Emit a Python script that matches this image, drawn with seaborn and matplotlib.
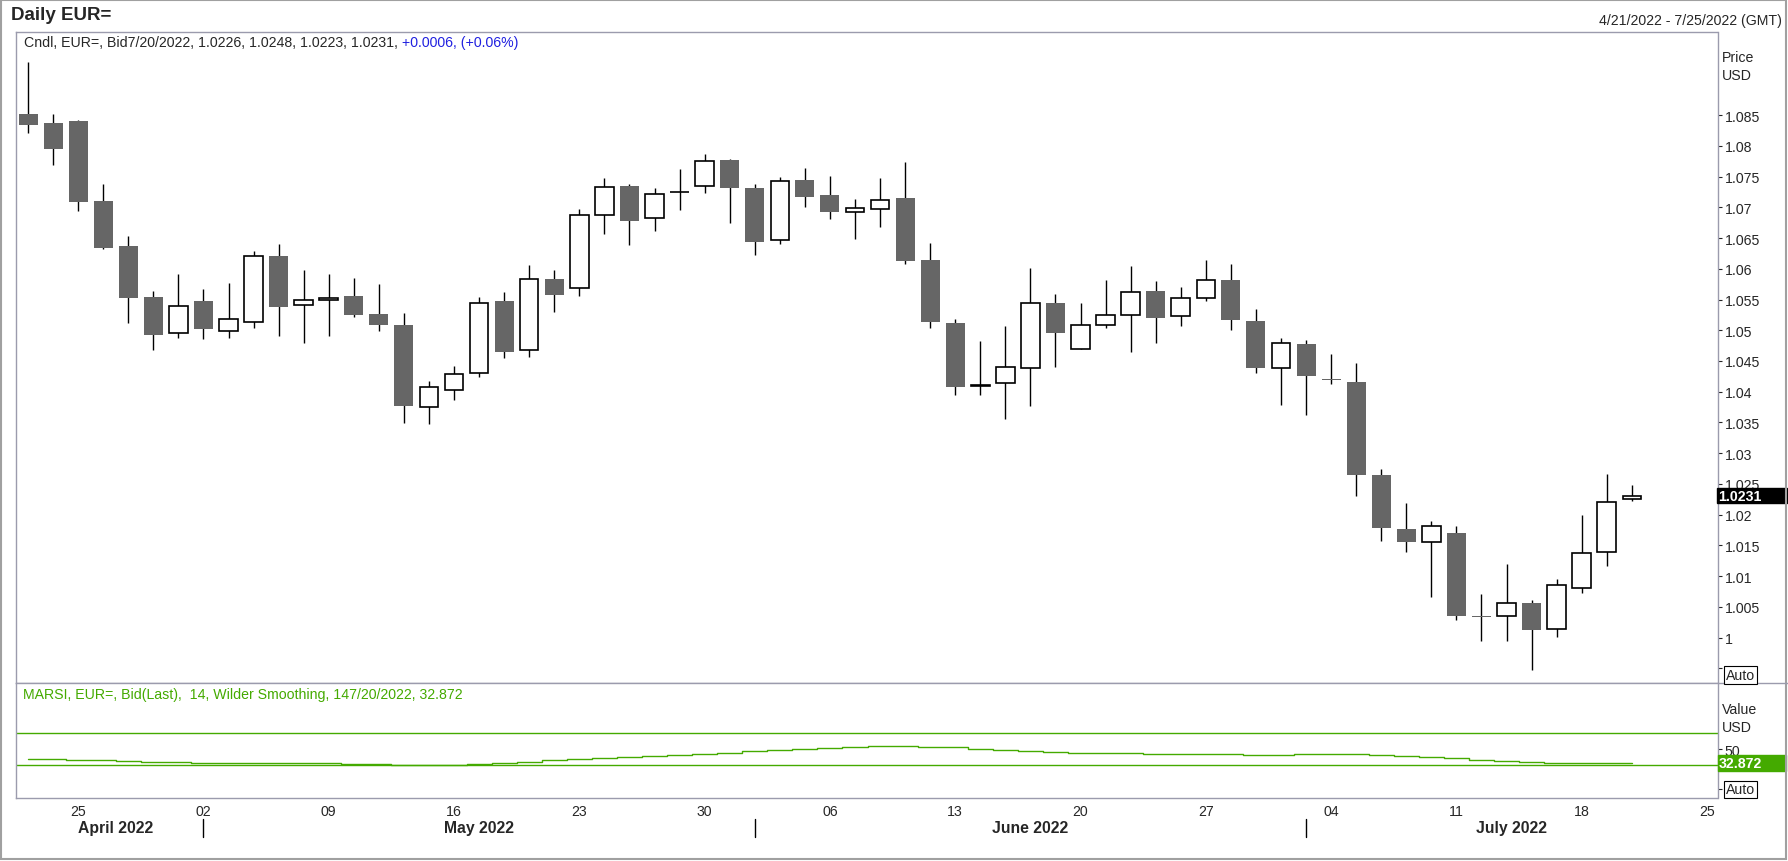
import numpy as np
import pandas as pd
import matplotlib
matplotlib.use('Agg')
import matplotlib.pyplot as plt
import matplotlib.transforms as mtransforms
from matplotlib.patches import Rectangle
from matplotlib.lines import Line2D
import seaborn as sns

# daily candles EUR= (bid), 4/21/2022 - 7/20/2022
opens = [1.0851, 1.0837, 1.0840, 1.0710, 1.0637, 1.0554, 1.0495, 1.0547, 1.0499, 1.0513,
         1.0621, 1.0541, 1.0549, 1.0556, 1.0526, 1.0509, 1.0376, 1.0403, 1.0430, 1.0547,
         1.0468, 1.0583, 1.0569, 1.0687, 1.0735, 1.0683, 1.0725, 1.0735, 1.0777, 1.0731,
         1.0646, 1.0744, 1.0720, 1.0692, 1.0697, 1.0715, 1.0614, 1.0512, 1.0409, 1.0414,
         1.0439, 1.0545, 1.0470, 1.0509, 1.0525, 1.0564, 1.0523, 1.0552, 1.0582, 1.0515,
         1.0439, 1.0478, 1.0421, 1.0416, 1.0265, 1.0177, 1.0156, 1.0170, 1.0036, 1.0035,
         1.0057, 1.0014, 1.0081, 1.0140, 1.0226]
highs = [1.0936, 1.0851, 1.0842, 1.0738, 1.0653, 1.0564, 1.0592, 1.0567, 1.0577, 1.0629,
         1.0640, 1.0598, 1.0592, 1.0585, 1.0575, 1.0528, 1.0417, 1.0442, 1.0554, 1.0562,
         1.0606, 1.0598, 1.0697, 1.0747, 1.0738, 1.0731, 1.0763, 1.0787, 1.0778, 1.0738,
         1.0750, 1.0764, 1.0751, 1.0713, 1.0748, 1.0774, 1.0642, 1.0518, 1.0483, 1.0507,
         1.0601, 1.0559, 1.0544, 1.0582, 1.0604, 1.0580, 1.0570, 1.0615, 1.0607, 1.0534,
         1.0487, 1.0484, 1.0461, 1.0447, 1.0274, 1.0219, 1.0190, 1.0182, 1.0071, 1.0120,
         1.0061, 1.0096, 1.0200, 1.0266, 1.0248]
lows = [1.0821, 1.0768, 1.0694, 1.0632, 1.0511, 1.0468, 1.0488, 1.0486, 1.0488, 1.0503,
        1.0490, 1.0480, 1.0491, 1.0522, 1.0498, 1.0349, 1.0347, 1.0386, 1.0424, 1.0455,
        1.0457, 1.0529, 1.0555, 1.0657, 1.0639, 1.0661, 1.0695, 1.0723, 1.0674, 1.0623,
        1.0641, 1.0701, 1.0681, 1.0649, 1.0668, 1.0607, 1.0503, 1.0395, 1.0394, 1.0355,
        1.0377, 1.0441, 1.0470, 1.0504, 1.0465, 1.0479, 1.0507, 1.0547, 1.0500, 1.0431,
        1.0379, 1.0362, 1.0413, 1.0231, 1.0158, 1.0140, 1.0067, 1.0029, 0.9995, 0.9994,
        0.9947, 1.0002, 1.0073, 1.0116, 1.0223]
closes = [1.0834, 1.0794, 1.0709, 1.0634, 1.0553, 1.0493, 1.0540, 1.0502, 1.0519, 1.0620,
          1.0538, 1.0550, 1.0552, 1.0525, 1.0509, 1.0377, 1.0408, 1.0429, 1.0545, 1.0464,
          1.0584, 1.0558, 1.0687, 1.0733, 1.0678, 1.0722, 1.0725, 1.0776, 1.0732, 1.0644,
          1.0743, 1.0717, 1.0692, 1.0698, 1.0712, 1.0613, 1.0514, 1.0407, 1.0411, 1.0441,
          1.0545, 1.0496, 1.0508, 1.0524, 1.0563, 1.0520, 1.0553, 1.0581, 1.0516, 1.0438,
          1.0479, 1.0426, 1.0419, 1.0264, 1.0179, 1.0156, 1.0181, 1.0036, 1.0034, 1.0057,
          1.0013, 1.0085, 1.0138, 1.0221, 1.0231]
# MARSI 14, Wilder smoothing
rsi = [37.1, 37.1, 35.8, 35.8, 34.6, 33.3, 33.3, 32.5, 32.5, 32.5,
       32.5, 32.5, 32.5, 31.25, 31.25, 30.0, 30.0, 30.0, 31.25, 32.5,
       34.2, 35.8, 37.1, 38.3, 39.6, 41.2, 42.9, 44.2, 45.4, 47.1,
       48.3, 50.0, 51.2, 52.5, 53.7, 53.7, 52.5, 52.5, 50.0, 48.7,
       47.1, 45.8, 44.6, 44.6, 44.6, 43.3, 43.3, 43.3, 43.3, 42.5,
       42.5, 43.7, 43.7, 43.7, 42.5, 40.8, 39.6, 38.3, 36.7, 35.4,
       33.7, 32.9, 32.9, 32.9, 32.872]
rsi_levels = [70, 30]

W, H = 1788, 862


def fx(px):
    return px / W


def fy(py):
    return 1 - py / H


sns.set_style('white')
plt.rcParams['font.family'] = ['Liberation Sans', 'DejaVu Sans']
plt.rcParams['font.size'] = 10.2

frame = '#9b9bad'
green = '#44aa00'
blue = '#2020e0'
gray = '#666666'

days = pd.bdate_range('2022-04-21', '2022-07-25')
idx = np.arange(len(opens))
o = np.array(opens)
c = np.array(closes)
up = c >= o

fig = plt.figure(figsize=(W / 100, H / 100), dpi=100)
ax = fig.add_axes([fx(15.5), fy(684.3), fx(1717.5) - fx(15.5), fy(33.3) - fy(684.3)])
ax2 = fig.add_axes([fx(15.5), fy(799.3), fx(1717.5) - fx(15.5), fy(684.3) - fy(799.3)], sharex=ax)

# candles
ax.vlines(idx, lows, highs, color='black', lw=1.0, zorder=1)
ax.bar(idx[up], (c - o)[up], bottom=o[up], width=0.74, facecolor='white',
       edgecolor='black', linewidth=1.2, zorder=2)
ax.bar(idx[~up], (o - c)[~up], bottom=c[~up], width=0.76, color=gray,
       linewidth=0, zorder=2)

ax.set_xlim(-0.5, 67.42)
ax.set_ylim(0.99259, 1.09845)
yt = np.round(np.arange(0.995, 1.0851, 0.005), 3)
ax.set_yticks(yt)
ax.set_yticklabels(['' if t < 1 else f'{t:g}' for t in yt])
for t, lab in zip(yt, ax.get_yticklabels()):
    if t in (1.0, 1.05):
        lab.set_fontweight('bold')
ax.yaxis.tick_right()
ax.tick_params(axis='y', direction='out', length=3, width=0.8, pad=2, labelsize=10.2)
ax.tick_params(axis='x', bottom=False, labelbottom=False)

# RSI panel
sns.lineplot(x=idx, y=rsi, ax=ax2, color=green, lw=1.0, drawstyle='steps-mid')
for lv in rsi_levels:
    ax2.axhline(lv, color=green, lw=1.0)
ax2.set_ylim(-11.6, 132.1)
ax2.set_yticks([0, 50])
ax2.set_yticklabels(['', '50'])
ax2.yaxis.tick_right()
ax2.tick_params(axis='y', direction='out', length=3, width=0.8, pad=2, labelsize=10.2)
ax2.set_ylabel('')

ax2.set_xticks(np.arange(len(days)))
ax2.set_xticklabels([d.strftime('%d') if d.weekday() == 0 else '' for d in days])
ax2.tick_params(axis='x', direction='out', length=3, width=0.8, pad=1, labelsize=10.2)

for a in (ax, ax2):
    for s in a.spines.values():
        s.set_color(frame)
        s.set_linewidth(1)
ax2.spines['top'].set_visible(False)

# months
xmin, xmax = ax2.get_xlim()
starts = [i for i in range(len(days)) if i == 0 or days[i].month != days[i - 1].month]
trans = mtransforms.blended_transform_factory(ax2.transData, fig.transFigure)
for k, s in enumerate(starts):
    left = max(s, xmin)
    right = starts[k + 1] if k + 1 < len(starts) else xmax
    ax2.text((left + right) / 2, fy(829), days[s].strftime('%B %Y'), transform=trans,
             ha='center', va='center', fontweight='bold', fontsize=11.3)
    if k > 0:
        ax2.plot([s, s], [fy(820), fy(838)], transform=trans, color='black', lw=1,
                 clip_on=False)

# texts
fig.text(fx(10.7), fy(16), 'Daily EUR=', fontsize=13.5, fontweight='bold', va='center')
t1 = fig.text(fx(23.7), fy(43.3),
              'Cndl, EUR=, Bid7/20/2022, 1.0226, 1.0248, 1.0223, 1.0231,',
              va='center', fontsize=10.2)
ax.annotate(' +0.0006, (+0.06%)', xy=(1, 0.5), xycoords=t1, va='center', ha='left',
            color=blue, fontsize=10.2)
d0, d1 = days[0], days[-1]
fig.text(fx(1782), fy(21.3),
         f'{d0.month}/{d0.day}/{d0.year} - {d1.month}/{d1.day}/{d1.year} (GMT)',
         ha='right', va='center')
fig.text(fx(1721.7), fy(58.3), 'Price', va='center')
fig.text(fx(1721.7), fy(76), 'USD', va='center')
fig.text(fx(1722), fy(710), 'Value', va='center')
fig.text(fx(1722), fy(727.7), 'USD', va='center')
fig.text(fx(23), fy(695.3),
         'MARSI, EUR=, Bid(Last),  14, Wilder Smoothing, 147/20/2022, 32.872',
         color=green, va='center')

box = dict(boxstyle='square,pad=0.12', fc='white', ec='black', lw=0.8)
fig.text(fx(1726), fy(676), 'Auto', va='center', bbox=box, zorder=6)
fig.text(fx(1726), fy(790.5), 'Auto', va='center', bbox=box, zorder=6)

# last value flags (drawn over the tick labels, as in the terminal)
bl = mtransforms.blended_transform_factory(fig.transFigure, ax.transData)
ax.add_artist(Rectangle((fx(1717), c[-1] - 0.00124), fx(1786.7) - fx(1717), 0.00249,
                        transform=bl, color='black', clip_on=False, zorder=5))
ax.text(fx(1718.5), c[-1], f'{c[-1]:.4f}', transform=bl, color='white',
        fontweight='bold', va='center', clip_on=False, zorder=6)
bl2 = mtransforms.blended_transform_factory(fig.transFigure, ax2.transData)
ax2.add_artist(Rectangle((fx(1717.7), rsi[-1] - 9.8), fx(1785.7) - fx(1717.7), 19.6,
                         transform=bl2, color=green, clip_on=False, zorder=5))
ax2.text(fx(1718.5), rsi[-1], f'{rsi[-1]:.3f}', transform=bl2, color='white',
         fontweight='bold', va='center', clip_on=False, zorder=6)

# separator and outer frame
fig.add_artist(Line2D([fx(15.5), fx(1788)], [fy(684.3), fy(684.3)], color=frame, lw=1))
fig.add_artist(Rectangle((fx(1), fy(860)), fx(1786) - fx(1), fy(1) - fy(860),
                         fill=False, ec='#a0a0a0', lw=1.5, transform=fig.transFigure))

plt.savefig('out.png', dpi=100)
